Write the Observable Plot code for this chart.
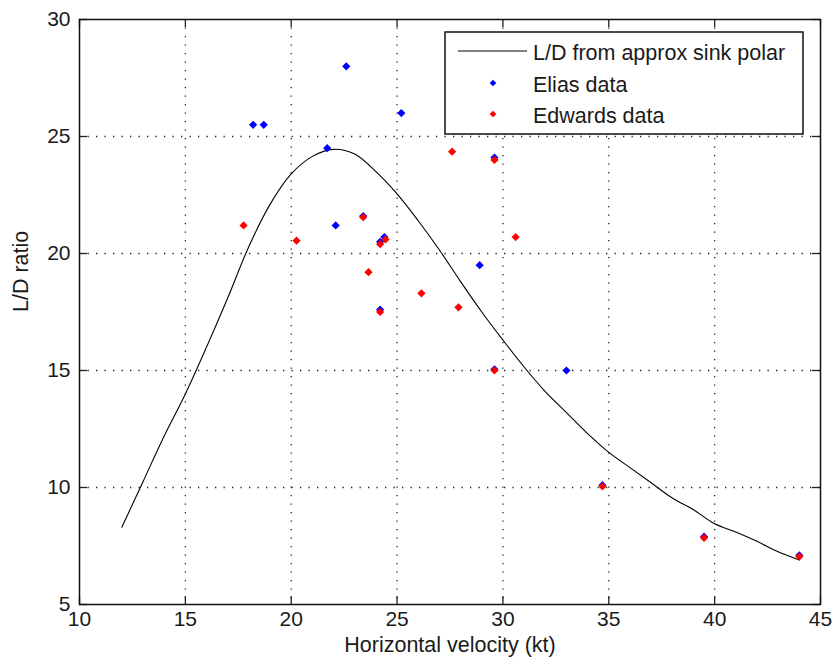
<!DOCTYPE html>
<html>
<head>
<meta charset="utf-8">
<script src="https://cdn.jsdelivr.net/npm/d3@7"></script>
<script src="https://cdn.jsdelivr.net/npm/@observablehq/plot@0.6"></script>
<style>
  html, body { margin: 0; padding: 0; background: #fff; }
  #chart { position: relative; width: 833px; height: 667px; }
</style>
</head>
<body>
<div id="chart"></div>
<script>
// Curve: L/D from approx sink polar
const curveV  = [12, 13, 14, 15, 16, 17, 18, 19, 20, 21, 22, 23, 24, 25, 26, 27, 28, 29, 30, 31, 32, 33, 34, 35, 36, 37, 38, 39, 40, 41, 42, 43, 44];
const curveLD = [8.3, 10.25, 12.2, 14.0, 16.0, 18.1, 20.3, 22.1, 23.4, 24.15, 24.45, 24.25, 23.5, 22.55, 21.4, 20.15, 18.8, 17.5, 16.3, 15.15, 14.1, 13.2, 12.3, 11.5, 10.85, 10.2, 9.55, 9.05, 8.45, 8.1, 7.7, 7.25, 6.9];

// Elias data
const eliasV  = [18.2, 18.7, 22.6, 25.2, 21.7, 22.1, 23.4, 24.2, 24.4, 24.2, 28.9, 29.6, 29.6, 33.0, 34.7, 39.5, 44.0];
const eliasLD = [25.5, 25.5, 28.0, 26.0, 24.5, 21.2, 21.6, 20.5, 20.7, 17.6, 19.5, 24.1, 15.05, 15.0, 10.1, 7.9, 7.1];

// Edwards data
const edwardsV  = [17.75, 20.25, 23.4, 24.2, 24.45, 23.65, 24.2, 26.15, 27.9, 27.6, 29.6, 30.6, 29.6, 34.7, 39.5, 44.0];
const edwardsLD = [21.2, 20.55, 21.55, 20.4, 20.6, 19.2, 17.5, 18.3, 17.7, 24.35, 24.0, 20.7, 15.0, 10.05, 7.85, 7.05];

const xTicks = [10, 15, 20, 25, 30, 35, 40, 45];
const yTicks = [5, 10, 15, 20, 25, 30];

const seriesNames = ["L/D from approx sink polar", "Elias data", "Edwards data"];
const xLabel = "Horizontal velocity (kt)";
const yLabel = "L/D ratio";

const curve   = curveV.map((v, i) => ({v, ld: curveLD[i]}));
const elias   = eliasV.map((v, i) => ({v, ld: eliasLD[i]}));
const edwards = edwardsV.map((v, i) => ({v, ld: edwardsLD[i]}));

const W = 833, H = 667;
const mL = 79, mR = 13, mT = 19, mB = 63;
const plotW = W - mL - mR, plotH = H - mT - mB;
const tickLen = 8;
const font = "'Liberation Sans', Arial, sans-serif";

const svg = Plot.plot({
  width: W, height: H,
  marginLeft: mL, marginRight: mR, marginTop: mT, marginBottom: mB,
  style: {fontFamily: font, fontSize: "21px", color: "#1a1a1a", background: "#fff"},
  x: {domain: [10, 45]},
  y: {domain: [5, 30]},
  marks: [
    Plot.gridX(xTicks.slice(1, -1), {stroke: "#222", strokeOpacity: 1, strokeWidth: 1.3, strokeDasharray: "1.3,7.2"}),
    Plot.gridY(yTicks.slice(1, -1), {stroke: "#222", strokeOpacity: 1, strokeWidth: 1.3, strokeDasharray: "1.3,7.2"}),
    Plot.line(curve, {x: "v", y: "ld", stroke: "#000", strokeWidth: 1.1, curve: "catmull-rom"}),
    Plot.dot(elias, {x: "v", y: "ld", symbol: "diamond2", r: 3.7, fill: "#0000ff", stroke: "none"}),
    Plot.dot(edwards, {x: "v", y: "ld", symbol: "diamond2", r: 3.7, fill: "#ff0000", stroke: "none"}),
    Plot.axisX({ticks: xTicks, tickSize: 0, tickPadding: 7, label: null, fontSize: 21}),
    Plot.axisY({ticks: yTicks, tickSize: 0, tickPadding: 9, label: null, fontSize: 21}),
    Plot.ruleX(xTicks, {stroke: "#222", strokeWidth: 1.3, insetTop: plotH - tickLen}),
    Plot.ruleX(xTicks, {stroke: "#222", strokeWidth: 1.3, insetBottom: plotH - tickLen}),
    Plot.ruleY(yTicks, {stroke: "#222", strokeWidth: 1.3, insetRight: plotW - tickLen}),
    Plot.ruleY(yTicks, {stroke: "#222", strokeWidth: 1.3, insetLeft: plotW - tickLen}),
    Plot.frame({stroke: "#111", strokeWidth: 1.5}),
    Plot.text([xLabel], {frameAnchor: "bottom", dy: 47, fontSize: 21.5, fill: "#1a1a1a"}),
    Plot.text([yLabel], {frameAnchor: "left", dx: -58, rotate: -90, fontSize: 21.5, fill: "#1a1a1a"})
  ]
});

// Legend box inside the plot (top right)
const g = d3.select(svg).append("g")
  .attr("font-family", font).attr("font-size", 21.5).attr("fill", "#1a1a1a")
  .attr("text-anchor", "start");
g.append("rect").attr("x", 445).attr("y", 32).attr("width", 358).attr("height", 102)
  .attr("fill", "#fff").attr("stroke", "#111").attr("stroke-width", 1.5);
g.append("line").attr("x1", 458).attr("x2", 527).attr("y1", 51).attr("y2", 51)
  .attr("stroke", "#000").attr("stroke-width", 1.1);
const sym = d3.symbol(d3.symbolDiamond2, Math.PI * 3 * 3);
g.append("path").attr("d", sym()).attr("transform", "translate(493,83)").attr("fill", "#0000ff").attr("stroke", "none");
g.append("path").attr("d", sym()).attr("transform", "translate(493,114)").attr("fill", "#ff0000").attr("stroke", "none");
const rowsY = [52, 84, 115];
seriesNames.forEach((name, i) => {
  g.append("text").attr("x", 533).attr("y", rowsY[i]).attr("dy", "0.35em")
    .attr("text-anchor", "start").text(name);
});

document.getElementById("chart").appendChild(svg);
</script>
</body>
</html>
